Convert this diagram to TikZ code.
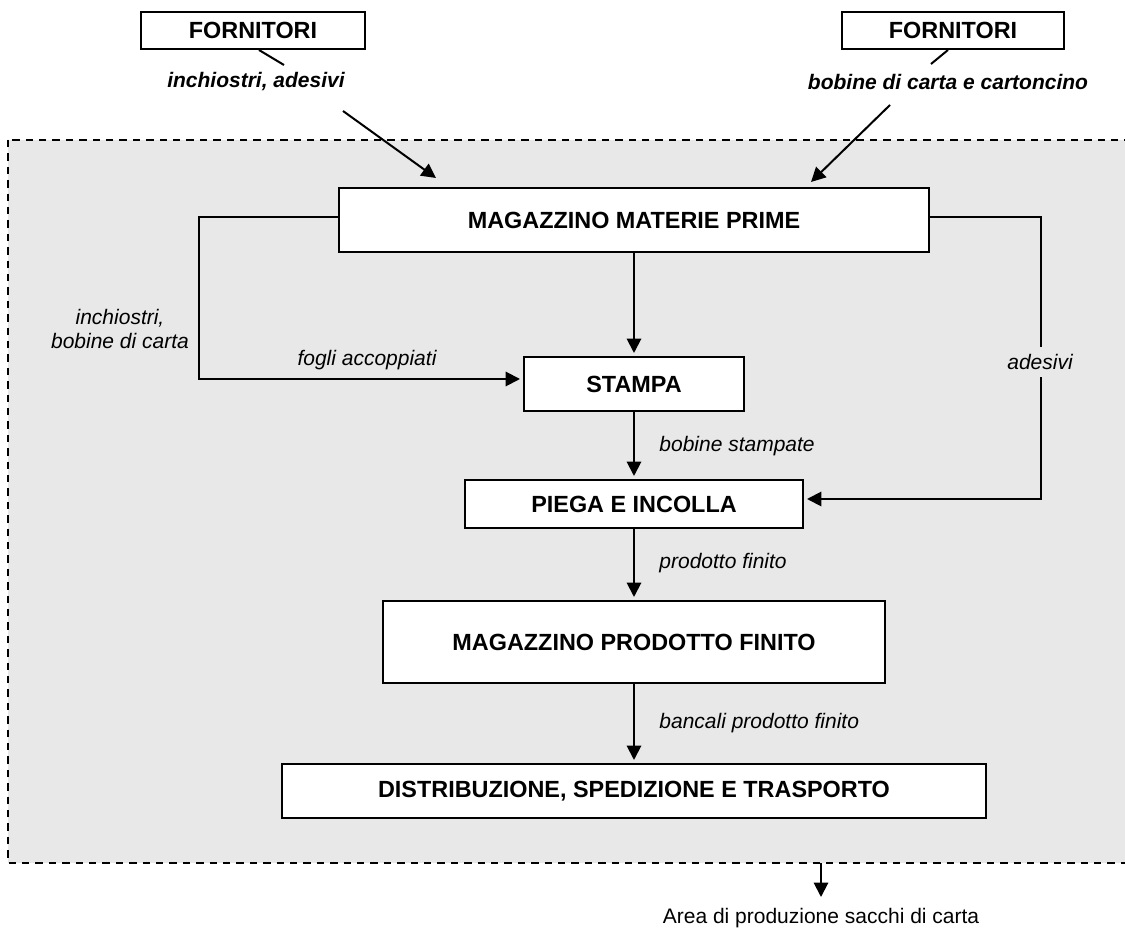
\documentclass[tikz,border=0pt]{standalone}
\usepackage{fontspec}
\setmainfont{Liberation Sans}
\usetikzlibrary{arrows.meta}
\definecolor{bggray}{HTML}{E8E8E8}
\begin{document}
\begin{tikzpicture}[x=0.5pt,y=-0.5pt,
  box/.style={draw, line width=1pt, fill=white, font=\fontsize{11.7}{14}\selectfont\bfseries, inner sep=0pt},
  lbl/.style={font=\fontsize{10.5}{12}\selectfont\itshape, inner sep=0pt},
  toplbl/.style={font=\fontsize{10.5}{12}\selectfont\bfseries\itshape, inner sep=0pt},
  plainlbl/.style={font=\fontsize{10.5}{12}\selectfont, inner sep=0pt},
  arrbase/.style={line width=1pt, -{Triangle[length=7.2pt,width=7.2pt]}},
  arr/.style={arrbase, shorten >=1.5pt},
  conn/.style={line width=1pt},
  area/.style={fill=bggray, draw=black, line width=1pt, dash pattern=on 3.7pt off 3pt}]
\clip (0,0) rectangle (1125,929);
\fill[white] (0,0) rectangle (1125,929);
% production area
\path[area] (8,140) rectangle (1140,863);

% suppliers
\node[box, minimum width=112pt, minimum height=18.5pt] (f1) at (253,30.5) {FORNITORI};
\node[box, minimum width=111pt, minimum height=18.5pt] (f2) at (953,30.5) {FORNITORI};
\node[toplbl] (l1) at (256,82) {inchiostri, adesivi};
\node[toplbl] (l2) at (948,82) {bobine di carta e cartoncino};

% main boxes
\node[box, minimum width=295pt, minimum height=32pt] (mmp) at (634,220) {MAGAZZINO MATERIE PRIME};
\node[box, minimum width=110pt, minimum height=27pt] (stampa) at (634,384) {STAMPA};
\node[box, minimum width=169pt, minimum height=24pt] (piega) at (634,504) {PIEGA E INCOLLA};
\node[box, minimum width=251pt, minimum height=41pt] (mpf) at (634,642) {MAGAZZINO PRODOTTO FINITO};
\node[box, minimum width=352pt, minimum height=27pt] (dist) at (634,791) {DISTRIBUZIONE, SPEDIZIONE E TRASPORTO};

% supplier arrows
\coordinate (l1a) at (284,65);
\coordinate (l1b) at (343,111);
\coordinate (t1) at (436,178);
\draw[conn] ([xshift=3pt]f1.south) -- (l1a);
\draw[arrbase] (l1b) -- (t1);
\coordinate (l2a) at (931,64);
\coordinate (l2b) at (890,105);
\coordinate (t2) at (811,182);
\draw[conn] ([xshift=-2.5pt]f2.south) -- (l2a);
\draw[arrbase] (l2b) -- (t2);

% central flow
\draw[arr] (mmp.south) -- (stampa.north);
\draw[arr] (stampa.south) -- (piega.north);
\draw[arr] (piega.south) -- (mpf.north);
\draw[arr] (mpf.south) -- (dist.north);

% side connectors
\coordinate (lc) at (199,379);
\draw[arr] ([yshift=1.5pt]mmp.west) -| (lc) -- (stampa.west |- lc);
\coordinate (rc) at (1041,499);
\draw[arr] ([yshift=1.5pt]mmp.east) -| (rc) -- (piega.east |- rc);

% labels
\node[lbl, align=center] (lin) at (120,329) {inchiostri,\\bobine di carta};
\node[lbl] (lfogli) at (367,360) {fogli accoppiati};
\node[lbl, fill=bggray, minimum height=15pt, inner xsep=2pt] (lades) at (1040,362) {adesivi};
\node[lbl, anchor=west] (lbob) at (659,446) {bobine stampate};
\node[lbl, anchor=west] (lprod) at (659,563) {prodotto finito};
\node[lbl, anchor=west] (lbanc) at (659,723) {bancali prodotto finito};

% output arrow
\coordinate (oa) at (821,863);
\coordinate (ob) at (821,897);
\draw[arrbase] (oa) -- (ob);
\node[plainlbl] (larea) at (821,918) {Area di produzione sacchi di carta};
\end{tikzpicture}
\end{document}
